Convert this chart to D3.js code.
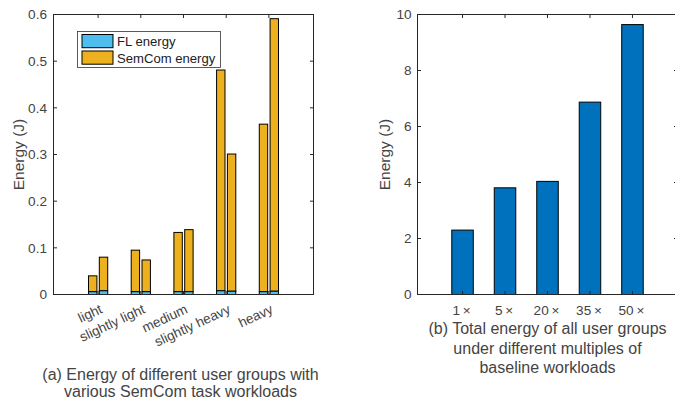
<!DOCTYPE html>
<html><head><meta charset="utf-8">
<script src="https://cdn.jsdelivr.net/npm/d3@7"></script>
<style>
body{margin:0;background:#fff;}
text{font-family:"Liberation Sans",Arial,Helvetica,sans-serif;}
</style></head>
<body>
<svg id="c" width="675" height="399"></svg>
<script>
// ---- Data ----
const groups = ["light","slightly light","medium","slightly heavy","heavy"];
const flEnergy1 = [0.006,0.006,0.006,0.008,0.006];
const flEnergy2 = [0.008,0.006,0.006,0.007,0.007];
const semTotal1 = [0.040,0.095,0.133,0.481,0.365];
const semTotal2 = [0.080,0.074,0.139,0.301,0.591];
const yTicksA = [0,0.1,0.2,0.3,0.4,0.5,0.6];
const multiples = ["1\u2009\u00d7","5\u2009\u00d7","20\u2009\u00d7","35\u2009\u00d7","50\u2009\u00d7"];
const totalEnergy = [2.30,3.81,4.04,6.87,9.64];
const yTicksB = [0,2,4,6,8,10];
const legendLabels = ["FL energy","SemCom energy"];

const C_FL = "#4DBEEE", C_SEM = "#EDB120", C_B = "#0072BD";
const AX = "#262626", TXT = "#444";
const TF = 13.6;
const svg = d3.select("#c");

function frame(g, x0, x1, y0, y1){
  g.append("rect").attr("x",x0).attr("y",y0).attr("width",x1-x0).attr("height",y1-y0)
   .attr("fill","none").attr("stroke",AX).attr("stroke-width",1);
}

// ---------- Panel (a) ----------
const A = {l:53.5, r:313.5, t:14.5, b:294.5};
const xA = d3.scaleLinear().domain([-0.045,6.045]).range([A.l,A.r]);
const yA = d3.scaleLinear().domain([0,0.6]).range([A.b,A.t]);
const gA = svg.append("g");
const bw = 8.4, off = 5.4;
groups.forEach((gname,i)=>{
  const cx = xA(i+1);
  [[flEnergy1[i],semTotal1[i],-off],[flEnergy2[i],semTotal2[i],off]].forEach(([fl,tot,o])=>{
    const x = cx+o-bw/2;
    gA.append("rect").attr("x",x).attr("width",bw).attr("y",yA(tot)).attr("height",yA(fl)-yA(tot))
      .attr("fill",C_SEM).attr("stroke","#000").attr("stroke-width",1);
    gA.append("rect").attr("x",x).attr("width",bw).attr("y",yA(fl)).attr("height",yA(0)-yA(fl))
      .attr("fill",C_FL).attr("stroke","#000").attr("stroke-width",1);
  });
});
frame(gA,A.l,A.r,A.t,A.b);
yTicksA.forEach(v=>{
  const y=yA(v);
  gA.append("line").attr("x1",A.l).attr("x2",A.l+3.5).attr("y1",y).attr("y2",y).attr("stroke",AX);
  gA.append("line").attr("x1",A.r).attr("x2",A.r-3.5).attr("y1",y).attr("y2",y).attr("stroke",AX);
  gA.append("text").attr("x",A.l-6.5).attr("y",y).attr("dy","0.36em").attr("text-anchor","end")
    .attr("font-size",TF).attr("fill",TXT).text(v===0?"0":d3.format(".1f")(v));
});
groups.forEach((gname,i)=>{
  const x=xA(i+1);
  gA.append("line").attr("x1",x).attr("x2",x).attr("y1",A.b).attr("y2",A.b-3.5).attr("stroke",AX);
  gA.append("line").attr("x1",x).attr("x2",x).attr("y1",A.t).attr("y2",A.t+3.5).attr("stroke",AX);
  gA.append("text").attr("transform",`translate(${x+1},${A.b+9}) rotate(-25)`)
    .attr("text-anchor","end").attr("dy","0.72em").attr("font-size",TF).attr("fill",TXT).text(gname);
});
gA.append("text").attr("transform",`translate(23.5,${(A.t+A.b)/2}) rotate(-90)`).attr("text-anchor","middle")
  .attr("font-size",15.5).attr("fill",TXT).text("Energy (J)");
// legend
const lg = gA.append("g");
lg.append("rect").attr("x",77.5).attr("y",31.5).attr("width",143).attr("height",36)
  .attr("fill","#fff").attr("stroke","#333").attr("stroke-width",0.8);
legendLabels.forEach((t,i)=>{
  const y = 34.5+i*16.5;
  lg.append("rect").attr("x",82).attr("y",y).attr("width",31).attr("height",13.2)
    .attr("fill",i===0?C_FL:C_SEM).attr("stroke","#000").attr("stroke-width",1);
  lg.append("text").attr("x",117).attr("y",y+11.5).attr("font-size",13.1)
    .attr("fill","#222").text(t);
});
const capA = ["(a) Energy of different user groups with","various SemCom task workloads"];
capA.forEach((t,i)=>gA.append("text").attr("x",180.5).attr("y",380+i*16.8).attr("text-anchor","middle")
  .attr("font-size",16).attr("fill",TXT).text(t));

// ---------- Panel (b) ----------
const B = {l:417.5, r:677.5, t:14.5, b:294.5};
const xB = d3.scaleLinear().domain([-0.06,6.06]).range([B.l,B.r]);
const yB = d3.scaleLinear().domain([0,10]).range([B.b,B.t]);
const gB = svg.append("g");
const bwB = 21.5;
multiples.forEach((m,i)=>{
  gB.append("rect").attr("x",xB(i+1)-bwB/2).attr("width",bwB).attr("y",yB(totalEnergy[i]))
    .attr("height",yB(0)-yB(totalEnergy[i])).attr("fill",C_B).attr("stroke","#000").attr("stroke-width",1);
});
frame(gB,B.l,B.r,B.t,B.b);
yTicksB.forEach(v=>{
  const y=yB(v);
  gB.append("line").attr("x1",B.l).attr("x2",B.l+3.5).attr("y1",y).attr("y2",y).attr("stroke",AX);
  gB.append("line").attr("x1",B.r).attr("x2",B.r-3.5).attr("y1",y).attr("y2",y).attr("stroke",AX);
  gB.append("text").attr("x",B.l-6).attr("y",y).attr("dy","0.36em").attr("text-anchor","end")
    .attr("font-size",TF).attr("fill",TXT).text(v);
});
multiples.forEach((m,i)=>{
  const x=xB(i+1);
  gB.append("line").attr("x1",x).attr("x2",x).attr("y1",B.b).attr("y2",B.b-3.5).attr("stroke",AX);
  gB.append("line").attr("x1",x).attr("x2",x).attr("y1",B.t).attr("y2",B.t+3.5).attr("stroke",AX);
  gB.append("text").attr("x",x-1).attr("y",B.b+20).attr("text-anchor","middle")
    .attr("font-size",TF).attr("fill",TXT).text(m);
});
gB.append("text").attr("transform",`translate(390,${(B.t+B.b)/2}) rotate(-90)`).attr("text-anchor","middle")
  .attr("font-size",15.5).attr("fill",TXT).text("Energy (J)");
const capB = ["(b) Total energy of all user groups","under different multiples of","baseline workloads"];
capB.forEach((t,i)=>gB.append("text").attr("x",547.5).attr("y",334+i*19.7).attr("text-anchor","middle")
  .attr("font-size",16).attr("fill",TXT).text(t));
</script>
</body></html>
